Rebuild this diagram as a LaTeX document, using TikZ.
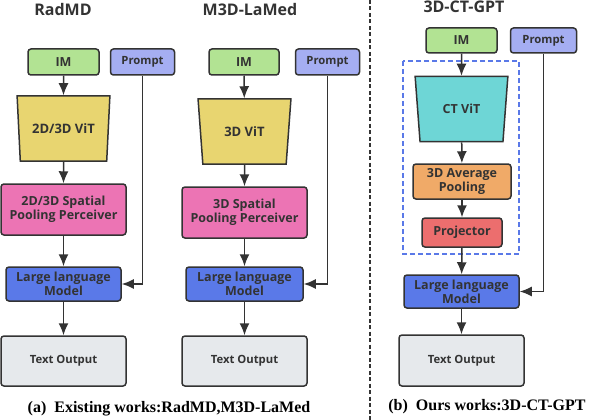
\documentclass[tikz,border=0pt]{standalone}
\usepackage{fontspec}
\setmainfont{Liberation Serif}
\newfontfamily\boxfont{Open Sans}
\usepackage{xcolor}
\usetikzlibrary{arrows.meta, shapes.geometric}

\definecolor{imgreen}{HTML}{B2E393}
\definecolor{promptblue}{HTML}{A5AEF2}
\definecolor{vityellow}{HTML}{E8D570}
\definecolor{poolpink}{HTML}{EC74B4}
\definecolor{llmblue}{HTML}{5A79E8}
\definecolor{outgray}{HTML}{E6E9EC}
\definecolor{vitcyan}{HTML}{6ED6D6}
\definecolor{avgorange}{HTML}{F0AA68}
\definecolor{projred}{HTML}{EC6E6E}
\definecolor{linegray}{HTML}{333333}

\tikzset{
    blk/.style={draw=linegray, line width=1.5pt, rounded corners=3pt, align=center,
        inner sep=1pt, text=linegray, font=\boxfont\bfseries\fontsize{12.5}{14}\selectfont},
    small/.style={font=\boxfont\bfseries\fontsize{11.3}{13}\selectfont},
    vit/.style={draw=linegray, line width=1.5pt, shape=trapezium, trapezium angle=77,
        shape border rotate=180, trapezium stretches=true, minimum width=93pt,
        minimum height=65pt, inner sep=0pt, text=linegray,
        font=\boxfont\bfseries\fontsize{13}{15}\selectfont},
    arr/.style={draw=linegray, line width=1.5pt, -{Latex[length=12pt,width=10pt]}},
    ttl/.style={text=linegray, font=\boxfont\bfseries\fontsize{16}{18}\selectfont},
    captxt/.style={text=black, font=\bfseries\fontsize{16}{18}\selectfont}
}

\begin{document}
\begin{tikzpicture}[x=1pt, y=-1pt]
    \useasboundingbox (0,0) rectangle (592,420);

    % Titles
    \node[ttl] (tA) at (63,10) {RadMD};
    \node[ttl] (tB) at (250,10) {M3D-LaMed};
    \node[ttl] (tC) at (464,7) {3D-CT-GPT};

    % RadMD
    \node[blk, fill=imgreen, minimum width=71pt, minimum height=26pt] (imA) at (63.5,62) {IM};
    \node[blk, small, fill=promptblue, minimum width=64pt, minimum height=26pt] (promptA) at (142.5,62) {Prompt};
    \node[vit, fill=vityellow] (vitA) at (63.5,128.5) {2D/3D ViT};
    \node[blk, fill=poolpink, minimum width=125pt, minimum height=51pt] (poolA) at (63.5,209.5) {2D/3D Spatial\\Pooling Perceiver};
    \node[blk, fill=llmblue, minimum width=115pt, minimum height=34pt] (llmA) at (63.5,284) {Large language\\Model};
    \node[blk, small, fill=outgray, minimum width=125pt, minimum height=50pt] (outA) at (63.5,361) {Text Output};

    % M3D-LaMed
    \node[blk, fill=imgreen, minimum width=70pt, minimum height=26pt] (imB) at (244,62) {IM};
    \node[blk, small, fill=promptblue, minimum width=64pt, minimum height=26pt] (promptB) at (327.5,62) {Prompt};
    \node[vit, fill=vityellow] (vitB) at (244.5,131.5) {3D ViT};
    \node[blk, fill=poolpink, minimum width=125pt, minimum height=51pt] (poolB) at (244.5,212.5) {3D Spatial\\Pooling Perceiver};
    \node[blk, fill=llmblue, minimum width=117pt, minimum height=34pt] (llmB) at (244.5,284) {Large language\\Model};
    \node[blk, small, fill=outgray, minimum width=125pt, minimum height=50pt] (outB) at (244.5,361) {Text Output};

    % 3D-CT-GPT
    \node[blk, fill=imgreen, minimum width=71pt, minimum height=25pt] (imC) at (461.5,40.5) {IM};
    \node[blk, small, fill=promptblue, minimum width=66pt, minimum height=25pt] (promptC) at (543.5,40.5) {Prompt};
    \draw[llmblue, line width=1.5pt, dash pattern=on 5pt off 3pt] (403,61) rectangle (519,254);
    \node[vit, fill=vitcyan, font=\boxfont\bfseries\fontsize{12.5}{14}\selectfont] (vitC) at (461.5,109) {CT ViT};
    \node[blk, fill=avgorange, minimum width=98pt, minimum height=35pt] (avgC) at (462,181.5) {3D Average\\Pooling};
    \node[blk, fill=projred, minimum width=80pt, minimum height=29pt] (projC) at (462,232.5) {Projector};
    \node[blk, fill=llmblue, minimum width=115pt, minimum height=33pt] (llmC) at (461.5,291.5) {Large language\\Model};
    \node[blk, small, fill=outgray, minimum width=125pt, minimum height=51pt] (outC) at (461.5,360.5) {Text Output};

    % Arrows
    \foreach \a/\b in {imA/vitA, vitA/poolA, poolA/llmA, llmA/outA,
                       imB/vitB, vitB/poolB, poolB/llmB, llmB/outB,
                       imC/vitC, vitC/avgC, avgC/projC, projC/llmC, llmC/outC} {
        \draw[arr] (\a) -- (\b);
    }
    \foreach \p/\l in {promptA/llmA, promptB/llmB, promptC/llmC} {
        \draw[arr] (\p.south) |- (\l.east);
    }

    % Divider
    \draw[linegray, line width=1.4pt, dash pattern=on 4pt off 2.5pt] (370,0) -- (370,420);

    % Captions
    \node[captxt] (capA) at (169,409) {(a)\ \ Existing works:RadMD,M3D-LaMed};
    \node[captxt] (capC) at (487,407) {(b)\ \ Ours works:3D-CT-GPT};
\end{tikzpicture}
\end{document}
